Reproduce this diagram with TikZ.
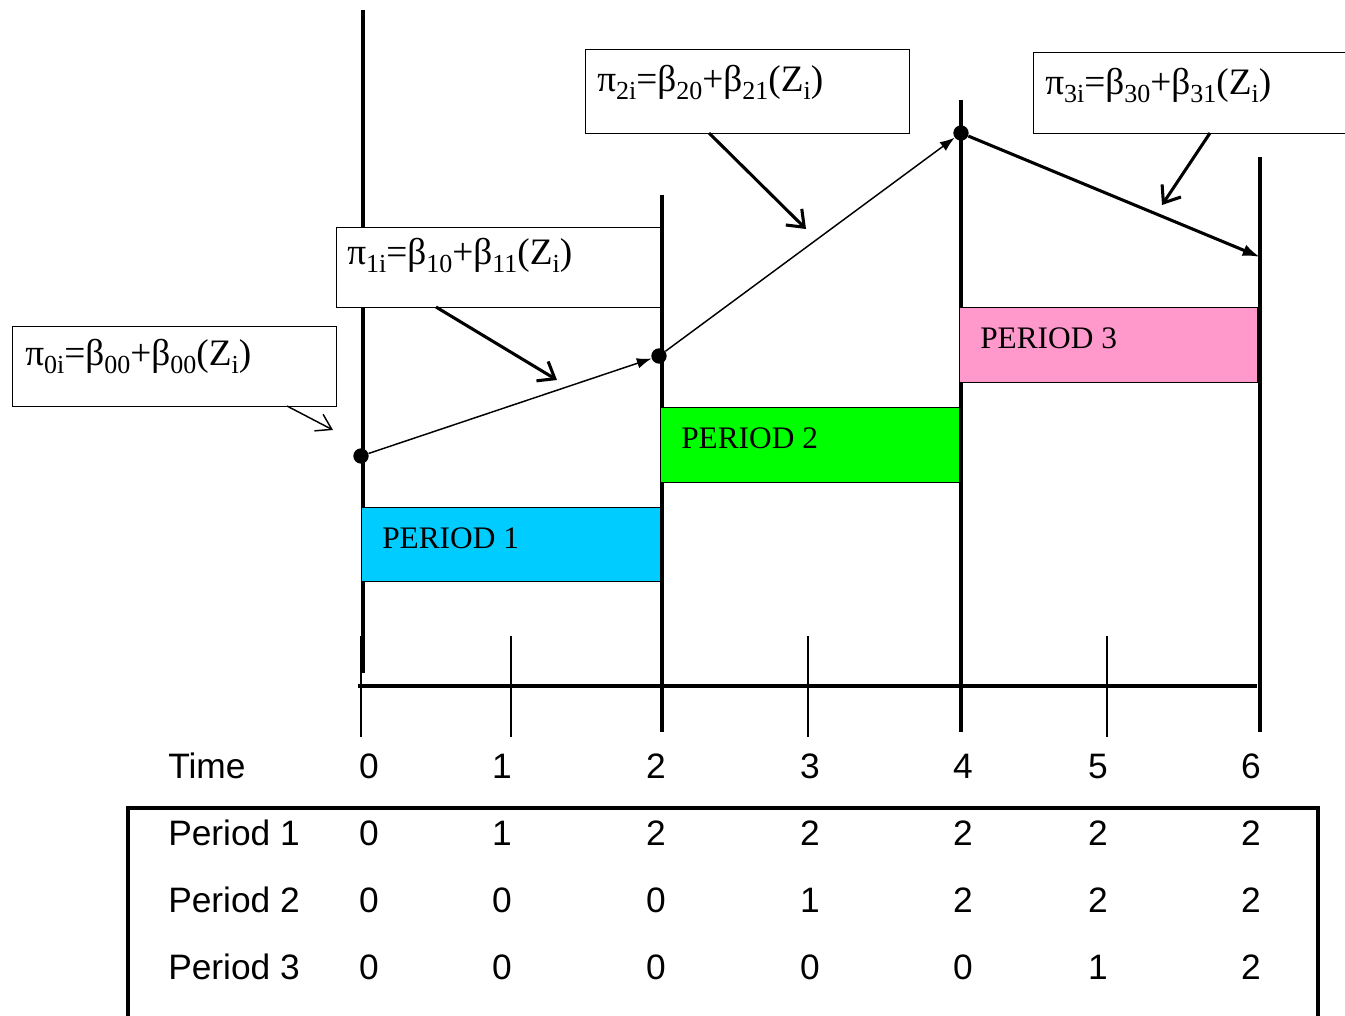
\documentclass[tikz,border=0pt]{standalone}
\usepackage{fontspec}
\setmainfont{Liberation Serif}
\newfontfamily\arialf{Liberation Sans}
\usetikzlibrary{arrows.meta}
\newcommand{\sbs}[1]{\raisebox{-6pt}{\fontsize{19.5}{19.5}\selectfont #1}}
\definecolor{pcyan}{RGB}{0,204,255}
\definecolor{pgreen}{RGB}{0,255,0}
\definecolor{ppink}{RGB}{255,153,204}
\begin{document}
\begin{tikzpicture}[x=0.75pt,y=-0.75pt,
  thickln/.style={line width=2.3pt},
  thinln/.style={line width=1.1pt},
  callout/.style={draw, line width=1.1pt, fill=white, inner sep=0pt, anchor=north west},
  formula/.style={anchor=base west, inner sep=0pt, font=\fontsize{28}{28}\selectfont},
  pbox/.style={draw, line width=0.8pt, inner sep=0pt, anchor=north west},
  ptext/.style={anchor=base west, inner sep=0pt, font=\fontsize{23.5}{24}\selectfont},
  tab/.style={anchor=base, inner sep=0pt, font=\arialf\fontsize{26.5}{27}\selectfont},
  tabl/.style={tab, anchor=base west},
  dot/.style={circle, fill, inner sep=0pt, minimum size=11.5pt},
  pointer/.style={line width=2.3pt, -{Straight Barb[length=11pt,width=17pt]}},
  tpointer/.style={line width=1.1pt, -{Straight Barb[length=11pt,width=14pt]}},
  traj/.style={line width=1.1pt, -{Latex[length=11pt,width=8pt]}},
]
\useasboundingbox (0,0) rectangle (1345,1015);
\clip (0,0) rectangle (1345,1015);

% vertical time lines
\draw[thickln] (363,10) -- (363,673);
\draw[thickln] (662,195) -- (662,732);
\draw[thickln] (961,100) -- (961,732);
\draw[thickln] (1260,157) -- (1260,732);
% ticks
\draw[thinln] (361,636) -- (361,737);
\draw[thinln] (511,636) -- (511,737);
\draw[thinln] (808,636) -- (808,737);
\draw[thinln] (1107,636) -- (1107,737);
% axis
\draw[line width=2.6pt] (358,686) -- (1257,686);

% period boxes
\node[pbox, fill=pcyan, minimum width=224.25pt, minimum height=55.5pt] (per1) at (361,507) {};
\node[pbox, fill=pgreen, minimum width=224.25pt, minimum height=56.25pt] (per2) at (660,407) {};
\node[pbox, fill=ppink, minimum width=223.5pt, minimum height=56.25pt] (per3) at (959,307) {};
\node[ptext] (per1t) at (382,548) {PERIOD 1};
\node[ptext] (per2t) at (681,448) {PERIOD 2};
\node[ptext] (per3t) at (980,348) {PERIOD 3};

% callout boxes
\node[callout, minimum width=243pt, minimum height=60pt] (b0) at (12,326) {};
\node[callout, minimum width=243pt, minimum height=60pt] (b1) at (336,227) {};
\node[callout, minimum width=243pt, minimum height=63pt] (b2) at (585,49) {};
\node[callout, minimum width=250pt, minimum height=60.75pt] (b3) at (1033,52) {};
\node[formula] (f0) at (25,365) {π\sbs{0i}=β\sbs{00}+β\sbs{00}(Z\sbs{i})};
\node[formula] (f1) at (347,264) {π\sbs{1i}=β\sbs{10}+β\sbs{11}(Z\sbs{i})};
\node[formula] (f2) at (597,91) {π\sbs{2i}=β\sbs{20}+β\sbs{21}(Z\sbs{i})};
\node[formula] (f3) at (1045,94) {π\sbs{3i}=β\sbs{30}+β\sbs{31}(Z\sbs{i})};

% callout pointers
\coordinate (c0s) at (287,406); \coordinate (c0e) at (333,430);
\coordinate (c1s) at (436,307); \coordinate (c1e) at (557,380);
\coordinate (c2s) at (709,133); \coordinate (c2e) at (806,229);
\coordinate (c3s) at (1210,133); \coordinate (c3e) at (1162,205);
\draw[tpointer] (c0s) -- (c0e);
\draw[pointer] (c1s) -- (c1e);
\draw[pointer] (c2s) -- (c2e);
\draw[pointer] (c3s) -- (c3e);

% trajectory
\node[dot] (d0) at (361,456) {};
\node[dot] (d1) at (659,356) {};
\node[dot] (d2) at (961,133) {};
\coordinate (e3) at (1260,257);
\draw[traj] (d0) -- (d1);
\draw[traj] (d1) -- (d2);
\draw[line width=2.3pt, -{Latex[length=13pt,width=9pt]}] (d2) -- (e3);

% table frame
\draw[line width=2.6pt] (128,1025) -- (128,808) -- (1318,808) -- (1318,1025);

% table text
\node[tabl] (tTime) at (168,778) {Time};
\node[tabl] (tP1) at (168,845) {Period 1};
\node[tabl] (tP2) at (168,912) {Period 2};
\node[tabl] (tP3) at (168,979) {Period 3};
\foreach \x [count=\i from 0] in {369,502,656,810,963,1098,1251} {
  \node[tab] at (\x,778) {\i};
}
\foreach \x/\v in {369/0,502/1,656/2,810/2,963/2,1098/2,1251/2} {
  \node[tab] at (\x,845) {\v};
}
\foreach \x/\v in {369/0,502/0,656/0,810/1,963/2,1098/2,1251/2} {
  \node[tab] at (\x,912) {\v};
}
\foreach \x/\v in {369/0,502/0,656/0,810/0,963/0,1098/1,1251/2} {
  \node[tab] at (\x,979) {\v};
}
\end{tikzpicture}
\end{document}
